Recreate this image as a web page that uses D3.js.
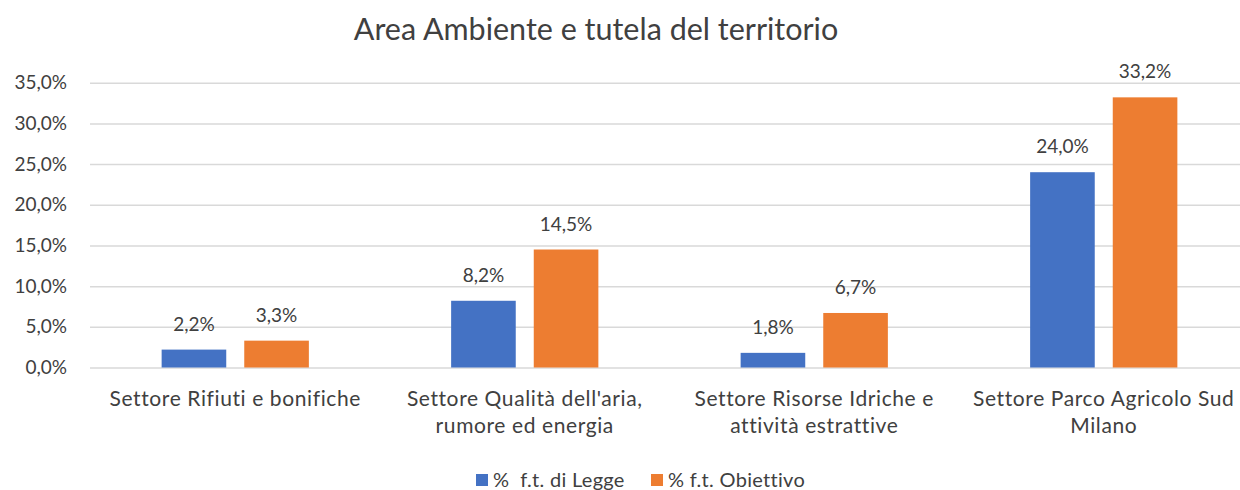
<!DOCTYPE html>
<html>
<head>
<meta charset="utf-8">
<script src="https://cdn.jsdelivr.net/npm/d3@7"></script>
<style>
  body { margin: 0; background: #fff; }
  text { font-family: Lato, "Open Sans", sans-serif; fill: #404040; }
</style>
</head>
<body>
<div id="chart"></div>
<script>
var categories = [
  "Settore Rifiuti e bonifiche",
  "Settore Qualità dell'aria,\nrumore ed energia",
  "Settore Risorse Idriche e\nattività estrattive",
  "Settore Parco Agricolo Sud\nMilano"
];
var seriesNames = ["%  f.t. di Legge", "% f.t. Obiettivo"];
var legge = [0.022, 0.082, 0.018, 0.240];
var obiettivo = [0.033, 0.145, 0.067, 0.332];
var yTicks = [0, 0.05, 0.10, 0.15, 0.20, 0.25, 0.30, 0.35];
var colors = ["#4472C4", "#ED7D31"];

var svgWidth = 1240;
var svgHeight = 490;

var svg = d3.select("#chart")
  .append("svg")
  .attr("width", svgWidth)
  .attr("height", svgHeight);

var it = d3.formatLocale({decimal: ",", thousands: ".", grouping: [3], currency: ["", "€"]});
var pct = it.format(".1%");

// scales
var x0 = d3.scaleBand()
  .domain(categories)
  .range([90.5, 1248.5]);

var x1 = d3.scaleBand()
  .domain(seriesNames)
  .range([0, x0.bandwidth()])
  .paddingInner(0.218)
  .paddingOuter(0.861);

var y = d3.scaleLinear()
  .domain([0, 0.35])
  .range([367.5, 82.7]);

// title
svg.append("text")
  .attr("x", 596)
  .attr("y", 40)
  .attr("text-anchor", "middle")
  .attr("font-size", 30.5)
  .text("Area Ambiente e tutela del territorio");

// gridlines
var leftAxis = d3.axisLeft(y)
  .tickValues(yTicks)
  .tickSize(-(1240 - 90))
  .tickPadding(23)
  .tickFormat(pct);

var yAxis = svg.append("g")
  .attr("transform", "translate(90,0)")
  .call(leftAxis);
yAxis.select(".domain").remove();
yAxis.selectAll(".tick line").attr("stroke", "#d9d9d9").attr("stroke-width", 1.5);
yAxis.selectAll(".tick text")
  .attr("font-size", 19)
  .attr("fill", "#404040")
  .attr("font-family", "Lato, sans-serif");

// bars
var rows = categories.map(function(c, i) {
  return {cat: c, values: [legge[i], obiettivo[i]]};
});

var groups = svg.selectAll(".group")
  .data(rows)
  .enter()
  .append("g")
  .attr("class", "group")
  .attr("transform", d => `translate(${x0(d.cat)},0)`);

groups.selectAll("rect")
  .data(d => d.values.map((v, j) => ({name: seriesNames[j], value: v, j: j})))
  .enter()
  .append("rect")
  .attr("x", d => x1(d.name))
  .attr("y", d => y(d.value))
  .attr("width", x1.bandwidth())
  .attr("height", d => y(0) - y(d.value))
  .attr("fill", d => colors[d.j]);

groups.selectAll(".lbl")
  .data(d => d.values.map((v, j) => ({name: seriesNames[j], value: v})))
  .enter()
  .append("text")
  .attr("class", "lbl")
  .attr("x", d => x1(d.name) + x1.bandwidth() / 2)
  .attr("y", d => y(d.value) - 19)
  .attr("text-anchor", "middle")
  .attr("font-size", 19)
  .text(d => pct(d.value));

// category labels
var catText = svg.selectAll(".cat")
  .data(categories)
  .enter()
  .append("text")
  .attr("class", "cat")
  .attr("text-anchor", "middle")
  .attr("font-size", 21)
  .attr("letter-spacing", 0.6)
  .attr("x", d => x0(d) + x0.bandwidth() / 2)
  .attr("y", 406);

catText.selectAll("tspan")
  .data(d => d.split("\n").map(s => ({s: s, x: x0(d) + x0.bandwidth() / 2})))
  .enter()
  .append("tspan")
  .attr("x", d => d.x)
  .attr("dy", (d, i) => i === 0 ? 0 : 27)
  .text(d => d.s);

// legend
var legendX = [476, 651];
var legend = svg.selectAll(".legend")
  .data(seriesNames)
  .enter()
  .append("g")
  .attr("class", "legend")
  .attr("transform", (d, i) => `translate(${legendX[i]},474)`);

legend.append("rect")
  .attr("width", 12)
  .attr("height", 12)
  .attr("fill", (d, i) => colors[i]);

legend.append("text")
  .attr("x", 17)
  .attr("y", 13)
  .attr("font-size", 20)
  .attr("letter-spacing", 0.3)
  .style("white-space", "pre")
  .text(d => d);
</script>
</body>
</html>
